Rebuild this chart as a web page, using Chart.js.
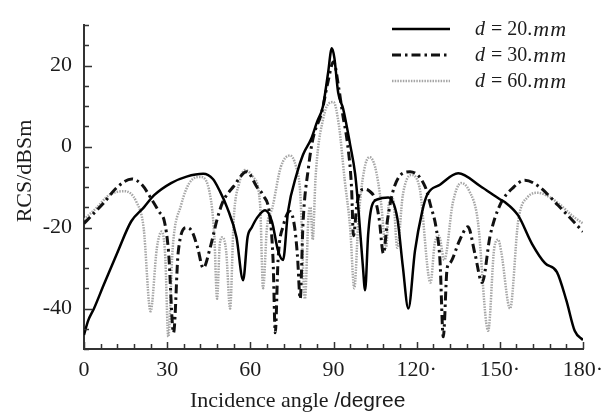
<!DOCTYPE html>
<html>
<head>
<meta charset="utf-8">
<script src="https://cdn.jsdelivr.net/npm/chart.js@4.4.1/dist/chart.umd.min.js"></script>
<style>
  html, body { margin: 0; padding: 0; background: #fff; }
  #c { display: block; }
</style>
</head>
<body>
<canvas id="c" width="613" height="414"></canvas>
<script>
// Data
const xTicks = [0, 30, 60, 90, 120, 150, 180];
const xTickLabels = ['0', '30', '60', '90', '120·', '150·', '180·'];
const yTicks = [-40, -20, 0, 20];
const seriesNames = ['20.', '30.', '60.'];

// d = 20 mm (solid)
const ang20 = [0, 1.5, 3.6, 7.2, 11.9, 17, 21.6, 25.3, 31.4, 37, 43, 46.5, 49, 51.6, 55, 57.4, 59, 60.5, 62.4, 65.3,
  67.8, 70, 71.8, 73.6, 76.8, 79, 82, 84, 86.2, 88, 89.4, 90.3, 91.7, 93.5, 96, 97.8, 98.8, 100.6, 101.4, 102.5,
  103.9, 106, 109.7, 113, 115, 117, 119.4, 122, 123.7, 128.4, 135, 143, 150, 152, 156.6, 161.6, 166.3, 170.6, 174, 177, 180];
const rcs20 = [-46.5, -43, -40, -34, -26.4, -18.5, -15, -12, -9, -7.4, -6.7, -8, -11, -15, -22.4, -33, -22.4, -20, -17.6, -15.7,
  -18.5, -25.7, -28, -16, -6.6, -2, 2, 6, 10, 18, 24.3, 22, 13.3, 9.3, 0.5, -6.7, -13.8, -29.6, -35.5, -21.7,
  -14.5, -13, -12.6, -17.6, -29.6, -40, -25.7, -16, -12, -9.4, -6.6, -9.8, -13, -13.8, -17, -24, -28.8, -31, -38, -45.5, -47.8];

// d = 30 mm (dash-dot)
const ang30 = [0, 3.5, 7, 12, 17.3, 21, 24, 27, 29, 30.5, 32.3, 34, 37, 39, 41, 43, 45.5, 48, 50, 54,
  58.7, 62.4, 64.6, 67, 68.2, 69, 70, 72, 74.3, 76, 77, 78, 79, 81, 82.6, 85.8, 88, 90, 92, 93.4,
  95, 96.5, 97.2, 98.5, 101, 103, 105, 106.5, 108, 109.5, 112, 117.6, 123, 125, 127, 128.4, 129.6, 131, 132, 135.6,
  138.5, 141, 143.6, 146.5, 150, 155, 159, 164, 171, 180];
const rcs30 = [-19, -16.5, -14, -10, -8, -9.5, -12.6, -16, -18.5, -26, -46, -26, -20, -21, -25, -30, -25, -18, -13.8, -9.8,
  -6.2, -10, -12, -17, -28, -46, -28, -19.3, -16, -20, -27, -37.6, -19, -5, 2, 8.6, 16, 21, 14, 7.6,
  1, -10, -22, -14, -10.5, -11, -13, -18, -26.4, -18, -9.8, -6.2, -9.8, -14.5, -20, -28, -47, -30, -28.8, -23,
  -19.8, -26.4, -33.6, -22, -14.5, -10, -8.3, -9.8, -14.5, -21];

// d = 60 mm (light dotted)
const ang60 = [0, 4.7, 9, 14.4, 19, 21.5, 24, 26.3, 28, 29.3, 30.4, 32, 35, 38, 42, 45.5, 47, 48, 49, 50,
  51.3, 52.7, 54, 56, 58, 61, 63.5, 64.6, 66, 68, 71, 74.3, 76.5, 78, 79.7, 81, 81.7, 82.5, 83.5, 84.5,
  86, 87.6, 90, 92, 94, 96, 97.5, 99, 101, 103, 105, 107, 109, 110, 111.5, 113, 115, 118, 121, 125,
  126.5, 128, 130, 133, 136, 139, 142, 145.8, 148, 149.4, 150.5, 153.7, 156.6, 160, 163.8, 168, 172, 176, 180];
const rcs60 = [-18, -15, -12, -11, -13.8, -20, -40.7, -25, -21, -27, -47, -25, -14.5, -9, -7.5, -12, -22, -37.6, -24, -22.4,
  -26, -40, -18, -9, -5.8, -7.5, -14, -35, -20, -15, -5, -2.2, -5, -11.4, -37.6, -17, -15, -23, -8, 0,
  6, 10, 11, 5, -8, -20, -35, -18, -6, -2.6, -5, -13, -25, -14, -13, -25, -12, -7, -10, -33.6,
  -24, -22, -28, -14, -9, -11, -18, -45.5, -25, -23, -26, -40, -18.5, -12.5, -11.4, -12.5, -14.5, -17, -19];

const toPoints = (xs, ys) => xs.map((x, i) => ({ x, y: ys[i] }));

const serif = '"Liberation Serif", "Times New Roman", serif';
const ink = '#1c1c1c';

// inward tick marks (major + minor)
const tickMarks = {
  id: 'tickMarks',
  afterDraw(chart) {
    const { ctx, chartArea: a, scales: { x, y } } = chart;
    ctx.save();
    ctx.strokeStyle = '#333';
    ctx.lineWidth = 1.5;
    ctx.beginPath();
    for (let v = x.min; v <= x.max; v += 6) {
      const px = Math.round(x.getPixelForValue(v)) + 0.5;
      const len = v % 30 === 0 ? 7 : 5;
      ctx.moveTo(px, a.bottom);
      ctx.lineTo(px, a.bottom - len);
    }
    for (let v = y.min; v <= y.max; v += 5) {
      const py = Math.round(y.getPixelForValue(v)) + 0.5;
      const len = v % 20 === 0 ? 8 : 5;
      ctx.moveTo(a.left, py);
      ctx.lineTo(a.left + len, py);
    }
    ctx.stroke();
    ctx.restore();
  }
};

// axis titles
const axisTitles = {
  id: 'axisTitles',
  afterDraw(chart) {
    const { ctx } = chart;
    ctx.save();
    ctx.fillStyle = ink;
    ctx.textBaseline = 'alphabetic';
    ctx.font = '22px ' + serif;
    const part1 = 'Incidence angle ';
    ctx.fillText(part1, 190, 407);
    const w1 = ctx.measureText(part1).width;
    ctx.font = '21px "Liberation Sans", Arial, sans-serif';
    ctx.fillText('/degree', 190 + w1, 407);

    ctx.translate(31, 171);
    ctx.rotate(-Math.PI / 2);
    ctx.font = '22px ' + serif;
    ctx.textAlign = 'center';
    ctx.fillText('RCS/dBSm', 0, 0);
    ctx.restore();
  }
};

// legend in the upper right of the plot
const insetLegend = {
  id: 'insetLegend',
  afterDraw(chart) {
    const { ctx } = chart;
    const rows = [29, 55, 81];
    ctx.save();
    chart.data.datasets.forEach((ds, i) => {
      const yy = rows[i];
      ctx.strokeStyle = ds.borderColor;
      ctx.lineWidth = ds.borderWidth;
      ctx.setLineDash(ds.borderDash || []);
      ctx.beginPath();
      ctx.moveTo(392, yy);
      ctx.lineTo(450, yy);
      ctx.stroke();
      ctx.setLineDash([]);

      ctx.fillStyle = ink;
      ctx.textBaseline = 'middle';
      let x = 475;
      ctx.font = 'italic 20px ' + serif;
      ctx.fillText('d', x, yy + 1);
      x += ctx.measureText('d').width + 6;
      ctx.font = '20px ' + serif;
      ctx.fillText('= ' + seriesNames[i], x, yy + 1);
      x += ctx.measureText('= ' + seriesNames[i]).width + 1;
      ctx.font = 'italic 22px ' + serif;
      ctx.letterSpacing = '1px';
      ctx.fillText('mm', x, yy + 1);
      ctx.letterSpacing = '0px';
    });
    ctx.restore();
  }
};

new Chart(document.getElementById('c'), {
  type: 'line',
  data: {
    datasets: [
      {
        label: 'd = 20.mm',
        data: toPoints(ang20, rcs20),
        borderColor: '#000',
        borderWidth: 2.5
      },
      {
        label: 'd = 30.mm',
        data: toPoints(ang30, rcs30),
        borderColor: '#111',
        borderWidth: 3,
        borderDash: [9, 4, 2.5, 4]
      },
      {
        label: 'd = 60.mm',
        data: toPoints(ang60, rcs60),
        borderColor: '#a6a6a6',
        borderWidth: 2.5,
        borderDash: [1.5, 1.2]
      }
    ]
  },
  options: {
    responsive: false,
    animation: false,
    devicePixelRatio: 1,
    layout: { padding: { top: 13, right: 30, left: 0, bottom: 0 } },
    elements: {
      point: { radius: 0 },
      line: { cubicInterpolationMode: 'monotone', fill: false }
    },
    plugins: {
      legend: { display: false },
      tooltip: { enabled: false }
    },
    scales: {
      x: {
        type: 'linear',
        min: 0,
        max: 180,
        afterBuildTicks: s => { s.ticks = xTicks.map(v => ({ value: v })); },
        afterFit: s => { s.height = 65; },
        grid: { display: true, drawOnChartArea: false, drawTicks: false },
        border: { color: '#333', width: 2 },
        ticks: {
          padding: 8,
          maxRotation: 0,
          color: ink,
          font: { family: serif, size: 22 },
          callback: v => xTickLabels[xTicks.indexOf(v)]
        }
      },
      y: {
        type: 'linear',
        min: -50,
        max: 30,
        afterBuildTicks: s => { s.ticks = yTicks.map(v => ({ value: v })); },
        afterFit: s => { s.width = 84; },
        grid: { display: true, drawOnChartArea: false, drawTicks: false },
        border: { color: '#333', width: 2 },
        ticks: {
          padding: 12,
          color: ink,
          font: { family: serif, size: 22 }
        }
      }
    }
  },
  plugins: [tickMarks, axisTitles, insetLegend]
});
</script>
</body>
</html>
